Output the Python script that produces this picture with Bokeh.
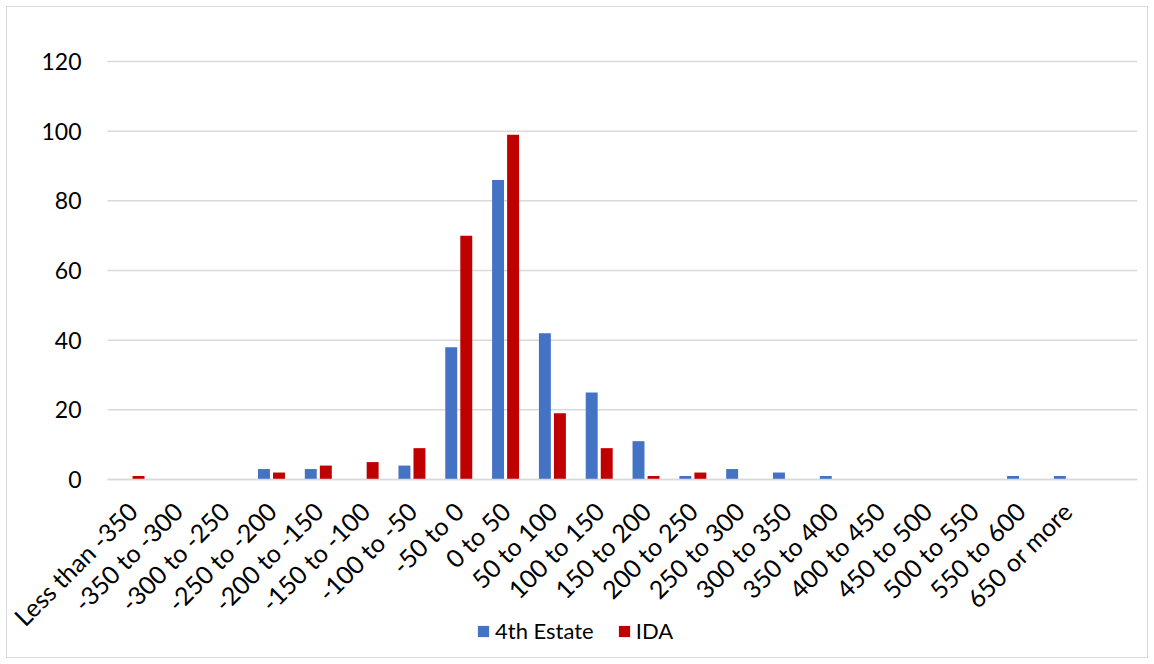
import math
from bokeh.plotting import figure
from bokeh.models import ColumnDataSource, Range1d, Legend, LegendItem, FixedTicker
from bokeh.transform import dodge
from bokeh.embed import file_html
from bokeh.resources import INLINE

categories = ["Less than -350", "-350 to -300", "-300 to -250", "-250 to -200", "-200 to -150",
              "-150 to -100", "-100 to -50", "-50 to 0", "0 to 50", "50 to 100", "100 to 150",
              "150 to 200", "200 to 250", "250 to 300", "300 to 350", "350 to 400", "400 to 450",
              "450 to 500", "500 to 550", "550 to 600", "650 or more", ""]
estate4 = [0, 0, 0, 3, 3, 0, 4, 38, 86, 42, 25, 11, 1, 3, 2, 1, 0, 0, 0, 1, 1, 0]
ida = [1, 0, 0, 2, 4, 5, 9, 70, 99, 19, 9, 1, 2, 0, 0, 0, 0, 0, 0, 0, 0, 0]
y_ticks = [0, 20, 40, 60, 80, 100, 120]

FONT = "Lato"
GRID = "#d9d9d9"

pos = list(range(len(categories)))
src = ColumnDataSource(dict(pos=pos, cat=categories, e=estate4, i=ida))
x_lo, x_hi = -0.5, len(categories) - 0.5

p = figure(width=1140, height=650, x_range=Range1d(-2.636, x_hi),
           y_range=Range1d(-51.1, 131.77), output_backend="svg", toolbar_location=None,
           min_border_left=0, min_border_right=10, min_border_top=13, min_border_bottom=0)
p.margin = (7, 7, 7, 7)
p.styles = {"outline": "1.5px solid #d9d9d9"}
p.outline_line_color = None
p.background_fill_color = "white"
p.border_fill_color = "white"
p.xgrid.grid_line_color = None
p.ygrid.grid_line_color = None

# horizontal gridlines limited to the plot area
grid_src = ColumnDataSource(dict(y=y_ticks, x0=[x_lo] * len(y_ticks), x1=[x_hi] * len(y_ticks)))
p.segment(x0="x0", x1="x1", y0="y", y1="y", source=grid_src, line_color=GRID, line_width=1.5)

r1 = p.vbar(x=dodge("pos", -0.158), top="e", width=0.255, source=src,
            fill_color="#4472C4", line_color=None)
r2 = p.vbar(x=dodge("pos", 0.163), top="i", width=0.255, source=src,
            fill_color="#C00000", line_color=None)

p.yaxis.fixed_location = x_lo
p.yaxis.ticker = FixedTicker(ticks=y_ticks)
p.yaxis.axis_line_color = None
p.yaxis.major_tick_line_color = None
p.yaxis.minor_tick_line_color = None
p.yaxis.major_label_standoff = 20
p.yaxis.major_label_text_font = FONT
p.yaxis.major_label_text_font_size = "23px"
p.yaxis.major_label_text_color = "#000000"

p.xaxis.fixed_location = 0
p.xaxis.bounds = (x_lo, x_hi)
p.xaxis.ticker = FixedTicker(ticks=pos)
p.xaxis.major_label_overrides = {i: c for i, c in zip(pos, categories)}
p.xaxis.axis_line_color = GRID
p.xaxis.axis_line_width = 1.5
p.xaxis.major_tick_line_color = None
p.xaxis.minor_tick_line_color = None
p.xaxis.major_label_orientation = math.pi / 4
p.xaxis.major_label_standoff = 21
p.xaxis.major_label_text_font = FONT
p.xaxis.major_label_text_font_size = "25px"
p.xaxis.major_label_text_color = "#000000"

legend = Legend(items=[LegendItem(label="4th Estate", renderers=[r1]),
                       LegendItem(label="IDA", renderers=[r2])],
                orientation="horizontal", location=(469, 13),
                glyph_width=14, glyph_height=14, label_standoff=5, spacing=23,
                padding=0, margin=0, border_line_color=None, background_fill_alpha=0,
                label_text_font=FONT, label_text_font_size="22px", label_text_color="#000000")
p.add_layout(legend, "center")

open("out.html", "w").write(file_html(p, INLINE))
